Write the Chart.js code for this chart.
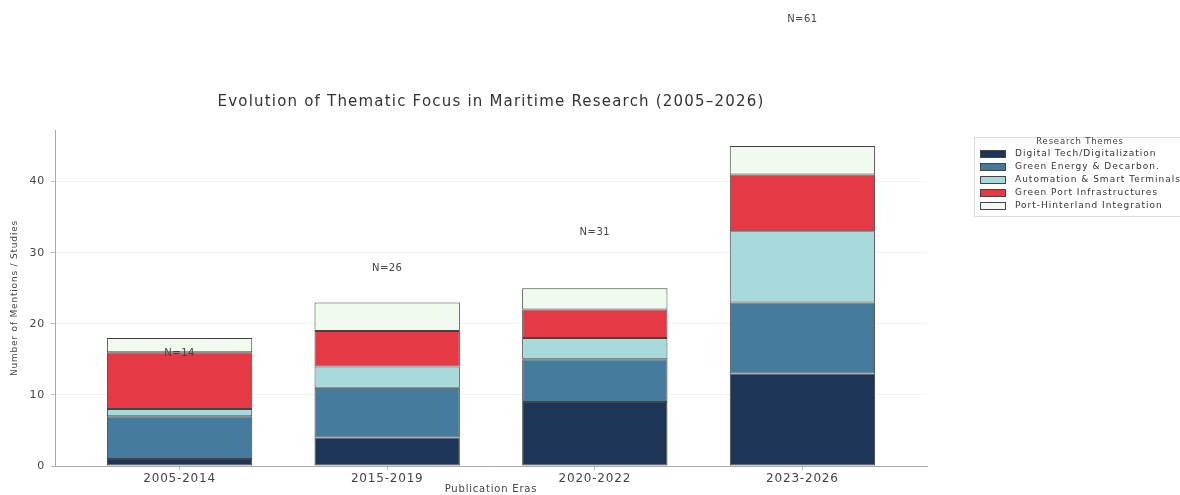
<!DOCTYPE html>
<html><head><meta charset="utf-8">
<script src="https://cdn.jsdelivr.net/npm/chart.js@4/dist/chart.umd.min.js"></script>
<style>html,body{margin:0;padding:0;background:#fff;}#wrap{width:1180px;height:495px;}</style>
</head><body><div id="wrap"><canvas id="c" width="1180" height="495"></canvas></div>
<script>
const eras = ["2005-2014", "2015-2019", "2020-2022", "2023-2026"];
const digitalTech = [1, 4, 9, 13];
const greenEnergy = [6, 7, 6, 10];
const automation = [1, 3, 3, 10];
const greenPort = [8, 5, 4, 8];
const hinterland = [2, 4, 3, 4];
const studyCounts = [14, 26, 31, 61];
const themeNames = ["Digital Tech/Digitalization", "Green Energy & Decarbon.", "Automation & Smart Terminals", "Green Port Infrastructures", "Port-Hinterland Integration"];
const themeColors = ["#1d3557", "#457b9d", "#a8dadc", "#e63946", "#f1faee"];
const yTicks = [0, 10, 20, 30, 40];
const chartTitle = "Evolution of Thematic Focus in Maritime Research (2005\u20132026)";
const legendTitle = "Research Themes";

const FONT = "'DejaVu Sans', sans-serif";
const series = [digitalTech, greenEnergy, automation, greenPort, hinterland];
const datasets = series.map((vals, k) => ({
  label: themeNames[k],
  data: vals.map((v, i) => ({x: i, y: v})),
  backgroundColor: themeColors[k],
  borderColor: "#444",
  borderWidth: 1,
  borderSkipped: false,
  barPercentage: 0.7,
  categoryPercentage: 1.0
}));

const extras = {
  id: "extras",
  beforeDraw(chart) {
    chart.ctx.letterSpacing = "0.8px";
  },
  afterDatasetsDraw(chart) {
    const ctx = chart.ctx, xs = chart.scales.x, ys = chart.scales.y;
    ctx.save();
    ctx.fillStyle = "#444";
    ctx.font = "10px " + FONT;
    ctx.letterSpacing = "0.5px";
    ctx.textAlign = "center";
    ctx.textBaseline = "middle";
    studyCounts.forEach((n, i) => {
      ctx.fillText("N=" + n, xs.getPixelForValue(i), ys.getPixelForValue(n + 1.8));
    });
    ctx.restore();
  },
  afterDraw(chart) {
    const ctx = chart.ctx, ca = chart.chartArea;
    ctx.save();
    ctx.fillStyle = "#333";
    ctx.font = "15px " + FONT;
    ctx.letterSpacing = "1.2px";
    ctx.textAlign = "center";
    ctx.textBaseline = "middle";
    ctx.fillText(chartTitle, (ca.left + ca.right) / 2, 102);
    const lx = 974, ly = 137, lw = 215, lh = 79;
    ctx.strokeStyle = "#dcdcdc";
    ctx.lineWidth = 1;
    ctx.fillStyle = "#fff";
    ctx.fillRect(lx, ly, lw, lh);
    ctx.strokeRect(lx + 0.5, ly + 0.5, lw, lh);
    ctx.fillStyle = "#444";
    ctx.font = "8.5px " + FONT;
    ctx.letterSpacing = "0.8px";
    ctx.fillText(legendTitle, 1080, 142);
    ctx.textAlign = "left";
    ctx.font = "9px " + FONT;
    ctx.letterSpacing = "1px";
    themeNames.forEach((name, k) => {
      const cy = 154 + k * 13;
      ctx.fillStyle = themeColors[k];
      ctx.fillRect(980, cy - 3.5, 26, 7);
      ctx.strokeStyle = "#444";
      ctx.strokeRect(980.5, cy - 3.5, 25, 7);
      ctx.fillStyle = "#333";
      ctx.fillText(name, 1015, cy);
    });
    ctx.restore();
  }
};

new Chart(document.getElementById("c"), {
  type: "bar",
  data: {datasets},
  options: {
    responsive: false,
    animation: false,
    layout: {padding: {left: 0, right: 253, top: 130, bottom: 0}},
    plugins: {legend: {display: false}, tooltip: {enabled: false}, title: {display: false}},
    scales: {
      x: {
        type: "linear",
        stacked: true,
        offset: false,
        min: -0.6,
        max: 3.6,
        afterBuildTicks: (axis) => { axis.ticks = eras.map((_, i) => ({value: i})); },
        afterFit: (axis) => { axis.height = 29; },
        ticks: {callback: (v) => eras[v] !== undefined ? eras[v] : "", color: "#444", font: {size: 12, family: FONT}, padding: 2, autoSkip: false, maxRotation: 0},
        grid: {display: true, offset: false, drawOnChartArea: false, tickLength: 4, tickColor: "#bbb"},
        border: {display: true, color: "#aaa", width: 1},
        title: {display: true, text: "Publication Eras", color: "#444", font: {size: 10, family: FONT}, padding: {top: 0, bottom: 0}}
      },
      y: {
        type: "linear",
        stacked: true,
        min: 0,
        max: 47.25,
        afterBuildTicks: (axis) => { axis.ticks = yTicks.map(v => ({value: v})); },
        afterFit: (axis) => { axis.width = 55; },
        ticks: {color: "#444", font: {size: 11, family: FONT}, padding: 6},
        grid: {color: "rgba(0,0,0,0.05)", tickLength: 4, tickColor: "#bbb"},
        border: {display: true, color: "#aaa", width: 1},
        title: {display: true, text: "Number of Mentions / Studies", color: "#444", font: {size: 9, family: FONT}, padding: {top: 9, bottom: 0}}
      }
    }
  },
  plugins: [extras]
});
</script>
</body></html>
